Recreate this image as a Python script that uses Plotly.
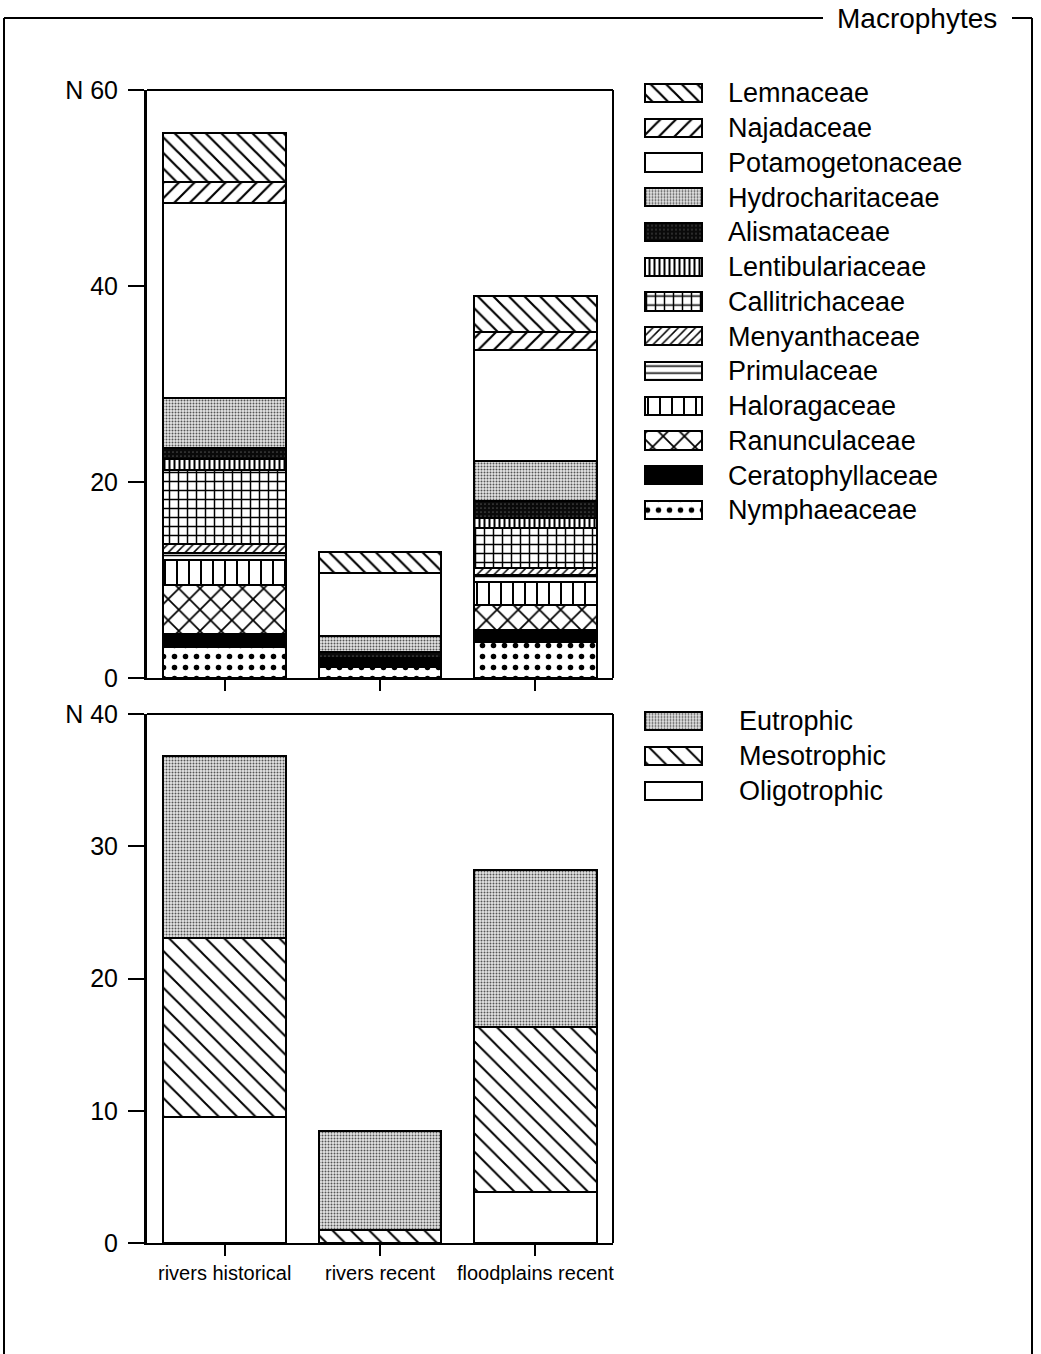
import plotly.graph_objects as go

W, H = 1041, 1354

# ---------------- data ----------------
categories = ["rivers historical", "rivers recent", "floodplains recent"]

# stacking order bottom -> top
families = ["Nymphaeaceae", "Ceratophyllaceae", "Ranunculaceae", "Haloragaceae",
            "Primulaceae", "Menyanthaceae", "Callitrichaceae", "Lentibulariaceae",
            "Alismataceae", "Hydrocharitaceae", "Potamogetonaceae", "Najadaceae",
            "Lemnaceae"]

nymphaeaceae = [3.2, 1.1, 3.7]
ceratophyllaceae = [1.3, 0.9, 1.2]
ranunculaceae = [5.0, None, 2.5]
haloragaceae = [2.5, None, 2.4]
primulaceae = [0.75, None, 0.7]
menyanthaceae = [0.95, None, 0.7]
callitrichaceae = [7.5, None, 4.1]
lentibulariaceae = [1.1, None, 1.0]
alismataceae = [1.2, 0.65, 1.8]
hydrocharitaceae = [5.1, 1.65, 4.0]
potamogetonaceae = [19.9, 6.4, 11.4]
najadaceae = [2.1, None, 1.8]
lemnaceae = [5.0, 2.2, 3.7]

family_values = [nymphaeaceae, ceratophyllaceae, ranunculaceae, haloragaceae,
                 primulaceae, menyanthaceae, callitrichaceae, lentibulariaceae,
                 alismataceae, hydrocharitaceae, potamogetonaceae, najadaceae,
                 lemnaceae]

trophic = ["Oligotrophic", "Mesotrophic", "Eutrophic"]
oligotrophic = [9.5, None, 3.85]
mesotrophic = [13.6, 1.0, 12.45]
eutrophic = [13.7, 7.45, 11.9]
trophic_values = [oligotrophic, mesotrophic, eutrophic]

top_ticks = [0, 20, 40, 60]
top_ticktext = ["0", "20", "40", "N 60"]
bot_ticks = [0, 10, 20, 30, 40]
bot_ticktext = ["0", "10", "20", "30", "N 40"]

# ---------------- styles ----------------
STYLE = {
    "Nymphaeaceae":     dict(shape=".",  fg="black", bg="white", size=11, sol=0.2),
    "Ceratophyllaceae": dict(shape="",   fg="black", bg="black", size=8,  sol=0.3),
    "Ranunculaceae":    dict(shape="x",  fg="black", bg="white", size=15, sol=0.22),
    "Haloragaceae":     dict(shape="|",  fg="black", bg="white", size=12, sol=0.17),
    "Primulaceae":      dict(shape="-",  fg="black", bg="white", size=7,  sol=0.22),
    "Menyanthaceae":    dict(shape="/",  fg="black", bg="white", size=6,  sol=0.25),
    "Callitrichaceae":  dict(shape="+",  fg="black", bg="white", size=9,  sol=0.3),
    "Lentibulariaceae": dict(shape="|",  fg="black", bg="white", size=5,  sol=0.4),
    "Alismataceae":     dict(shape=".",  fg="#4a4a4a", bg="#0a0a0a", size=4, sol=0.15),
    "Hydrocharitaceae": dict(shape=".",  fg="#555555", bg="#e6e6e6", size=3, sol=0.35),
    "Potamogetonaceae": dict(shape="",   fg="black", bg="white", size=8,  sol=0.3),
    "Najadaceae":       dict(shape="/",  fg="black", bg="white", size=11, sol=0.2),
    "Lemnaceae":        dict(shape="\\", fg="black", bg="white", size=11, sol=0.2),
    "Oligotrophic":     dict(shape="",   fg="black", bg="white", size=8,  sol=0.3),
    "Mesotrophic":      dict(shape="\\", fg="black", bg="white", size=13, sol=0.15),
    "Eutrophic":        dict(shape=".",  fg="#555555", bg="#e6e6e6", size=3, sol=0.35),
}

FONT = "Liberation Sans, Arial, Helvetica, sans-serif"


def marker_for(name):
    s = STYLE[name]
    return dict(color=s["bg"], line=dict(color="black", width=2),
                pattern=dict(shape=s["shape"], fgcolor=s["fg"], bgcolor=s["bg"],
                             size=s["size"], solidity=s["sol"], fillmode="replace"))


fig = go.Figure()

BAR_W = 0.79
for name, vals in zip(families, family_values):
    fig.add_trace(go.Bar(x=categories, y=vals, name=name, width=BAR_W,
                         marker=marker_for(name), xaxis="x", yaxis="y"))

for name, vals in zip(trophic, trophic_values):
    fig.add_trace(go.Bar(x=categories, y=vals, name=name, width=BAR_W,
                         marker=marker_for(name), xaxis="x2", yaxis="y2"))

# legend swatches drawn as horizontal bars (one per entry)
legend_top = families[::-1]
legend_bot = trophic[::-1]
SWATCH = [1]
for name in legend_top:
    fig.add_trace(go.Bar(y=[name], x=SWATCH, orientation="h", width=0.52,
                         marker=marker_for(name), xaxis="x3", yaxis="y3"))
for name in legend_bot:
    fig.add_trace(go.Bar(y=[name], x=SWATCH, orientation="h", width=0.5,
                         marker=marker_for(name), xaxis="x4", yaxis="y4"))


def px(x):
    return x / W


def py(y):
    return 1 - y / H


common_y = dict(ticks="outside", ticklen=16, tickwidth=2, tickcolor="black",
                showline=True, linewidth=3, linecolor="black", showgrid=False,
                zeroline=False, automargin=False, ticklabelstandoff=5,
                tickfont=dict(family=FONT, size=25, color="black"))
common_x = dict(type="category", range=[-0.5, 2.5], ticks="outside", ticklen=11,
                tickwidth=2, tickcolor="black", showline=True, linewidth=2,
                linecolor="black", showgrid=False, zeroline=False, automargin=False)

fig.update_layout(
    template="none",
    width=W, height=H,
    margin=dict(l=0, r=0, t=0, b=0, pad=0, autoexpand=False),
    paper_bgcolor="white", plot_bgcolor="white",
    barmode="stack", showlegend=False,
    xaxis=dict(domain=[px(147), px(613)], anchor="y", showticklabels=False, **common_x),
    yaxis=dict(domain=[py(678), py(90)], anchor="x", range=[0, 60],
               tickvals=top_ticks, ticktext=top_ticktext, **common_y),
    xaxis2=dict(domain=[px(147), px(613)], anchor="y2", tickangle=0,
                tickfont=dict(family=FONT, size=20, color="black"), **common_x),
    yaxis2=dict(domain=[py(1243), py(714)], anchor="x2", range=[0, 40],
                tickvals=bot_ticks, ticktext=bot_ticktext, **common_y),
    xaxis3=dict(domain=[px(642), px(705)], anchor="y3", range=[-0.05, 1.05],
                visible=False, automargin=False),
    yaxis3=dict(domain=[py(527.4), py(75.6)], anchor="x3", type="category",
                categoryorder="array", categoryarray=legend_top,
                range=[len(legend_top) - 0.5, -0.5], side="right",
                showline=False, showgrid=False, zeroline=False, ticks="",
                ticklabelstandoff=22, automargin=False,
                tickfont=dict(family=FONT, size=27, color="black")),
    xaxis4=dict(domain=[px(642), px(705)], anchor="y4", range=[-0.05, 1.05],
                visible=False, automargin=False),
    yaxis4=dict(domain=[py(808.5), py(703.5)], anchor="x4", type="category",
                categoryorder="array", categoryarray=legend_bot,
                range=[len(legend_bot) - 0.5, -0.5], side="right",
                showline=False, showgrid=False, zeroline=False, ticks="",
                ticklabelstandoff=33, automargin=False,
                tickfont=dict(family=FONT, size=27, color="black")),
)

shapes = []
for xr, yr in [("x domain", "y domain"), ("x2 domain", "y2 domain")]:
    shapes.append(dict(type="line", xref=xr, yref=yr, x0=0, x1=1, y0=1, y1=1,
                       line=dict(color="black", width=2)))
    shapes.append(dict(type="line", xref=xr, yref=yr, x0=1, x1=1, y0=0, y1=1,
                       line=dict(color="black", width=2)))
# outer frame
FRAME_Y = py(18)
shapes += [
    dict(type="line", xref="paper", yref="paper", x0=px(4), x1=px(823), y0=FRAME_Y, y1=FRAME_Y,
         line=dict(color="black", width=2)),
    dict(type="line", xref="paper", yref="paper", x0=px(1012), x1=px(1032), y0=FRAME_Y, y1=FRAME_Y,
         line=dict(color="black", width=2)),
    dict(type="line", xref="paper", yref="paper", x0=px(4), x1=px(4), y0=0, y1=FRAME_Y,
         line=dict(color="black", width=2)),
    dict(type="line", xref="paper", yref="paper", x0=px(1032), x1=px(1032), y0=0, y1=FRAME_Y,
         line=dict(color="black", width=2)),
]
fig.update_layout(shapes=shapes)

fig.add_annotation(text="Macrophytes", xref="paper", yref="paper", x=px(835), y=py(18),
                   xanchor="left", yanchor="middle", showarrow=False,
                   font=dict(family=FONT, size=28, color="black"))

# remove the default page margin so the figure sits at the window's top-left corner
fig.write_html("out.html", config={"displayModeBar": False},
               post_script="document.body.style.margin='0px';")
